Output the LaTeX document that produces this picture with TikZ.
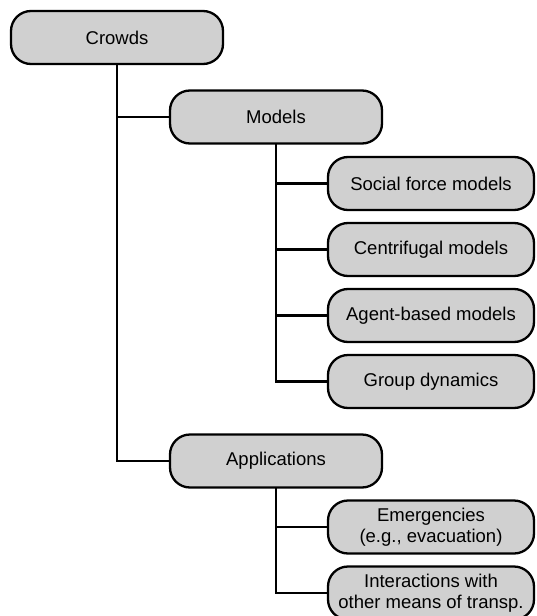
\documentclass[tikz,border=0pt]{standalone}
\usepackage{fontspec}
\setmainfont{Liberation Sans}
\begin{document}
\begin{tikzpicture}[
  box/.style={draw=black, line width=2.3pt, fill=boxgray, rounded corners=20pt,
    minimum height=53pt, align=center, inner sep=0pt,
    font=\fontsize{18.5pt}{21pt}\selectfont},
  parentbox/.style={box, minimum width=212pt},
  childbox/.style={box, minimum width=206pt},
  conn/.style={line width=2.3pt, line cap=rect}
]
\definecolor{boxgray}{HTML}{D0D0D0}
\useasboundingbox (0pt,0pt) rectangle (536pt,-616pt);
\node[parentbox] (crowds) at (117pt,-37.5pt) {Crowds};
\node[parentbox] (models) at (276pt,-117pt) {Models};
\node[childbox] (sf) at (431pt,-183.5pt) {Social force models};
\node[childbox] (cf) at (431pt,-249.5pt) {Centrifugal models};
\node[childbox] (ab) at (431pt,-315.5pt) {Agent-based models};
\node[childbox] (gd) at (431pt,-381.5pt) {Group dynamics};
\node[parentbox] (apps) at (276pt,-461pt) {Applications};
\node[childbox] (em) at (431pt,-527pt) {Emergencies\\(e.g., evacuation)};
\node[childbox] (it) at (431pt,-593pt) {Interactions with\\other means of transp.};
\draw[conn] (crowds.south) |- (models.west);
\draw[conn] (crowds.south) |- (apps.west);
\foreach \c in {sf,cf,ab,gd} \draw[conn] (models.south) |- (\c.west);
\foreach \c in {em,it} \draw[conn] (apps.south) |- (\c.west);
\end{tikzpicture}
\end{document}
